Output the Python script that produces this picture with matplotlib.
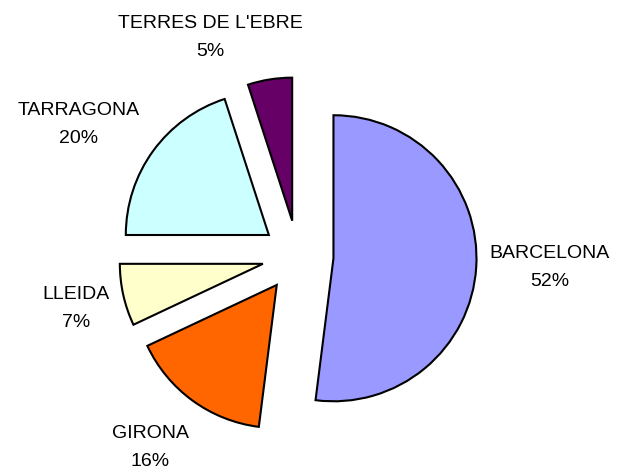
import matplotlib.pyplot as plt

plt.rcParams['font.family'] = ['Liberation Sans', 'DejaVu Sans']

provincies = ['BARCELONA', 'GIRONA', 'LLEIDA', 'TARRAGONA', "TERRES DE L'EBRE"]
percent = [52, 16, 7, 20, 5]
colors = ['#9999FF', '#FF6600', '#FFFFCC', '#CCFFFF', '#660066']
explode = [0.25, 0.25, 0.25, 0.25, 0.25]
# posicio de les etiquetes (respecte el centre del pastis)
label_pos = [(1.76, -0.08), (-1.03, -1.34), (-1.55, -0.37), (-1.53, 0.92), (-0.61, 1.53)]

fig = plt.figure(figsize=(6.17, 4.72), dpi=100)
ax = fig.add_axes([0, 0, 1, 1])

labels = ['{}\n{}%'.format(n, p) for n, p in zip(provincies, percent)]
wedges, texts = ax.pie(percent, labels=labels, colors=colors, explode=explode,
                       startangle=90, counterclock=False, labeldistance=1.45,
                       wedgeprops=dict(edgecolor='black', linewidth=1.5),
                       textprops=dict(fontsize=14, ha='center', va='center',
                                      multialignment='center', linespacing=1.85))
for t, p in zip(texts, label_pos):
    t.set_position(p)

ax.set_aspect('equal')
ax.set_xlim(-2.08, 2.23)
ax.set_ylim(-1.51, 1.79)

plt.savefig('out.png', dpi=100)
